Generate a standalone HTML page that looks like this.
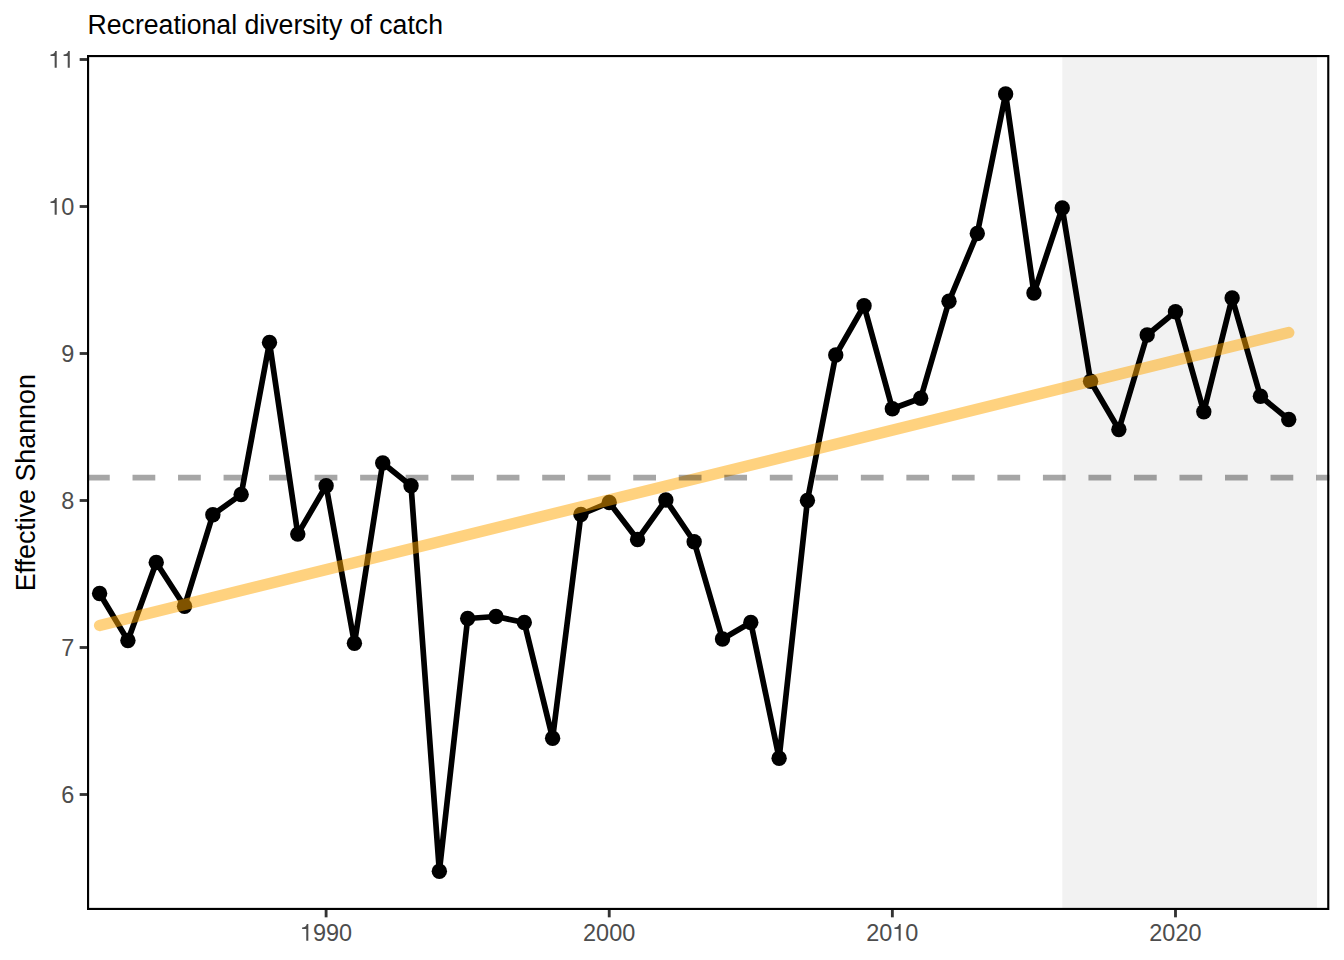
<!DOCTYPE html>
<html><head><meta charset="utf-8"><title>Recreational diversity of catch</title>
<style>
html,body{margin:0;padding:0;background:#fff;}
body{width:1344px;height:960px;overflow:hidden;font-family:"Liberation Sans",sans-serif;}
svg{display:block;}
text{font-family:"Liberation Sans",sans-serif;}
</style></head><body>
<svg width="1344" height="960" viewBox="0 0 1344 960">
<rect x="0" y="0" width="1344" height="960" fill="#ffffff"/>
<text transform="translate(87.5,33.8) scale(1,1.04)" font-size="26.67" fill="#000">Recreational diversity of catch</text>
<text transform="translate(34.8,482.75) rotate(-90) scale(1.006,1.05)" font-size="26.67" fill="#000" text-anchor="middle">Effective Shannon</text>
<rect x="1062.24" y="55.0" width="254.82" height="855.0" fill="#d3d3d3" fill-opacity="0.3"/>
<polyline points="99.60,593.50 127.91,640.50 156.23,562.50 184.54,606.25 212.85,514.75 241.16,494.50 269.48,342.50 297.79,534.10 326.10,485.75 354.42,643.25 382.73,463.00 411.04,485.75 439.36,871.20 467.67,618.50 495.98,616.50 524.29,622.50 552.61,738.25 580.92,514.50 609.23,502.50 637.55,539.50 665.86,500.00 694.17,541.75 722.49,639.00 750.80,622.50 779.11,758.20 807.42,500.50 835.74,355.00 864.05,305.75 892.36,408.75 920.68,398.25 948.99,301.25 977.30,233.50 1005.62,94.00 1033.93,293.00 1062.24,208.00 1090.55,381.25 1118.87,429.50 1147.18,335.00 1175.49,311.75 1203.81,411.75 1232.12,298.00 1260.43,396.25 1288.75,419.50" fill="none" stroke="#000" stroke-width="5.69" stroke-linejoin="round" stroke-linecap="butt"/>
<g fill="#000">
<circle cx="99.60" cy="593.50" r="7.7"/>
<circle cx="127.91" cy="640.50" r="7.7"/>
<circle cx="156.23" cy="562.50" r="7.7"/>
<circle cx="184.54" cy="606.25" r="7.7"/>
<circle cx="212.85" cy="514.75" r="7.7"/>
<circle cx="241.16" cy="494.50" r="7.7"/>
<circle cx="269.48" cy="342.50" r="7.7"/>
<circle cx="297.79" cy="534.10" r="7.7"/>
<circle cx="326.10" cy="485.75" r="7.7"/>
<circle cx="354.42" cy="643.25" r="7.7"/>
<circle cx="382.73" cy="463.00" r="7.7"/>
<circle cx="411.04" cy="485.75" r="7.7"/>
<circle cx="439.36" cy="871.20" r="7.7"/>
<circle cx="467.67" cy="618.50" r="7.7"/>
<circle cx="495.98" cy="616.50" r="7.7"/>
<circle cx="524.29" cy="622.50" r="7.7"/>
<circle cx="552.61" cy="738.25" r="7.7"/>
<circle cx="580.92" cy="514.50" r="7.7"/>
<circle cx="609.23" cy="502.50" r="7.7"/>
<circle cx="637.55" cy="539.50" r="7.7"/>
<circle cx="665.86" cy="500.00" r="7.7"/>
<circle cx="694.17" cy="541.75" r="7.7"/>
<circle cx="722.49" cy="639.00" r="7.7"/>
<circle cx="750.80" cy="622.50" r="7.7"/>
<circle cx="779.11" cy="758.20" r="7.7"/>
<circle cx="807.42" cy="500.50" r="7.7"/>
<circle cx="835.74" cy="355.00" r="7.7"/>
<circle cx="864.05" cy="305.75" r="7.7"/>
<circle cx="892.36" cy="408.75" r="7.7"/>
<circle cx="920.68" cy="398.25" r="7.7"/>
<circle cx="948.99" cy="301.25" r="7.7"/>
<circle cx="977.30" cy="233.50" r="7.7"/>
<circle cx="1005.62" cy="94.00" r="7.7"/>
<circle cx="1033.93" cy="293.00" r="7.7"/>
<circle cx="1062.24" cy="208.00" r="7.7"/>
<circle cx="1090.55" cy="381.25" r="7.7"/>
<circle cx="1118.87" cy="429.50" r="7.7"/>
<circle cx="1147.18" cy="335.00" r="7.7"/>
<circle cx="1175.49" cy="311.75" r="7.7"/>
<circle cx="1203.81" cy="411.75" r="7.7"/>
<circle cx="1232.12" cy="298.00" r="7.7"/>
<circle cx="1260.43" cy="396.25" r="7.7"/>
<circle cx="1288.75" cy="419.50" r="7.7"/>
</g>
<line x1="99.60" y1="625.5" x2="1288.75" y2="332.5" stroke="#ffa500" stroke-opacity="0.5" stroke-width="11.38" stroke-linecap="round"/>
<line x1="87.0" x2="1329.33" y1="477.6" y2="477.6" stroke="#000" stroke-opacity="0.35" stroke-width="5.69" stroke-dasharray="22.76 22.76"/>
<rect x="88.065" y="56.065" width="1240.200" height="852.870" fill="none" stroke="#000" stroke-width="2.13"/>
<g stroke="#333" stroke-width="2.85">
<line x1="79.67" x2="87.00" y1="794.50" y2="794.50"/>
<line x1="79.67" x2="87.00" y1="647.50" y2="647.50"/>
<line x1="79.67" x2="87.00" y1="500.50" y2="500.50"/>
<line x1="79.67" x2="87.00" y1="353.50" y2="353.50"/>
<line x1="79.67" x2="87.00" y1="206.50" y2="206.50"/>
<line x1="79.67" x2="87.00" y1="59.50" y2="59.50"/>
<line x1="326.10" x2="326.10" y1="910.00" y2="917.33"/>
<line x1="609.23" x2="609.23" y1="910.00" y2="917.33"/>
<line x1="892.36" x2="892.36" y1="910.00" y2="917.33"/>
<line x1="1175.49" x2="1175.49" y1="910.00" y2="917.33"/>
</g>
<g font-size="23.47" fill="#4d4d4d">
<text transform="translate(61.35,802.75) scale(1,1.026)">6</text>
<text transform="translate(61.35,655.75) scale(1,1.026)">7</text>
<text transform="translate(61.35,508.75) scale(1,1.026)">8</text>
<text transform="translate(61.35,361.75) scale(1,1.026)">9</text>
<path transform="translate(48.29,214.75) scale(0.02347,-0.02347)" d="M359 0H271V505H95V568C190 572 266 590 295 709H359Z"/><text transform="translate(61.35,214.75) scale(1,1.026)">0</text>
<path transform="translate(48.29,67.75) scale(0.02347,-0.02347)" d="M359 0H271V505H95V568C190 572 266 590 295 709H359Z"/><path transform="translate(61.35,67.75) scale(0.02347,-0.02347)" d="M359 0H271V505H95V568C190 572 266 590 295 709H359Z"/>
<path transform="translate(299.90,940.75) scale(0.02347,-0.02347)" d="M359 0H271V505H95V568C190 572 266 590 295 709H359Z"/><text transform="translate(312.95,940.75) scale(1,1.026)">9</text><text transform="translate(326.00,940.75) scale(1,1.026)">9</text><text transform="translate(339.06,940.75) scale(1,1.026)">0</text>
<text transform="translate(583.03,940.75) scale(1,1.026)">2</text><text transform="translate(596.08,940.75) scale(1,1.026)">0</text><text transform="translate(609.13,940.75) scale(1,1.026)">0</text><text transform="translate(622.19,940.75) scale(1,1.026)">0</text>
<text transform="translate(866.16,940.75) scale(1,1.026)">2</text><text transform="translate(879.21,940.75) scale(1,1.026)">0</text><path transform="translate(892.26,940.75) scale(0.02347,-0.02347)" d="M359 0H271V505H95V568C190 572 266 590 295 709H359Z"/><text transform="translate(905.32,940.75) scale(1,1.026)">0</text>
<text transform="translate(1149.29,940.75) scale(1,1.026)">2</text><text transform="translate(1162.34,940.75) scale(1,1.026)">0</text><text transform="translate(1175.39,940.75) scale(1,1.026)">2</text><text transform="translate(1188.45,940.75) scale(1,1.026)">0</text>
</g>
</svg>
</body></html>
